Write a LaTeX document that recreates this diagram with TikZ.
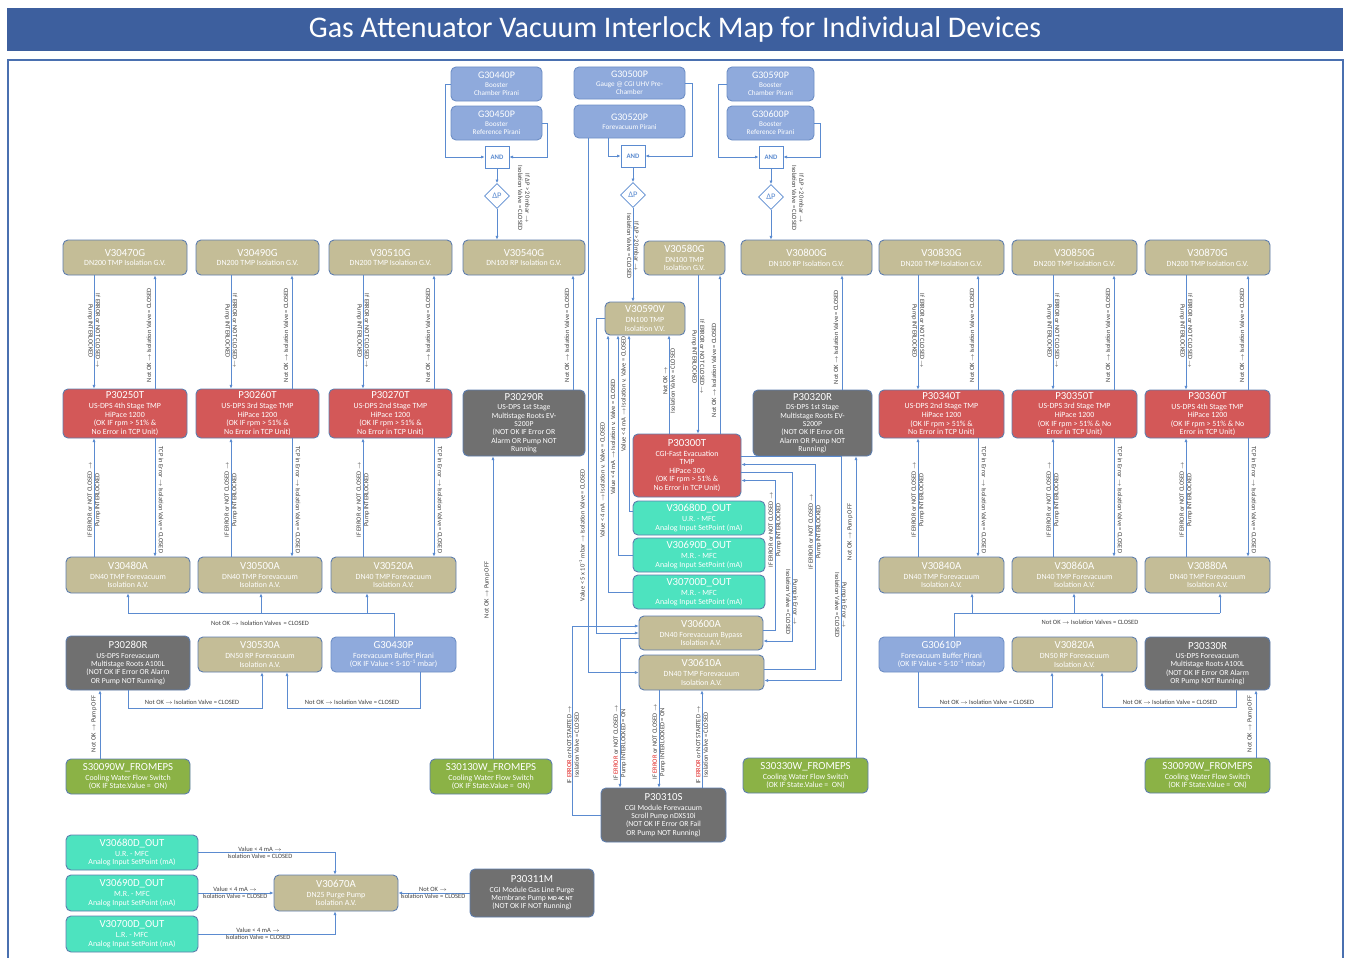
\documentclass[tikz,border=0pt]{standalone}
\usepackage{fontspec}
\setmainfont{Carlito}
\usetikzlibrary{arrows.meta,shapes.geometric}

\definecolor{barc}{HTML}{3D5F9E}
\definecolor{framec}{HTML}{4A70B0}
\definecolor{linec}{HTML}{5B8BD0}
\definecolor{bordc}{HTML}{5E7EAE}
\definecolor{gaugeb}{HTML}{6E8FC6}
\definecolor{tanc}{HTML}{C4BD97}
\definecolor{redc}{HTML}{D35858}
\definecolor{greyc}{HTML}{707070}
\definecolor{tealc}{HTML}{4DE3BF}
\definecolor{greenc}{HTML}{8BB246}
\definecolor{gaugec}{HTML}{8FAADC}
\definecolor{labc}{HTML}{404040}
\definecolor{errc}{HTML}{E0201E}

% box title lines
\newcommand\hdr[1]{{\fontsize{10.8}{12}\selectfont #1}\\[1.2pt]}
\newcommand\hds[1]{{\fontsize{10}{11}\selectfont #1}\\[0.6pt]}
\newcommand\rarr{$\rightarrow$}
\newcommand\err{\textcolor{errc}{ERROR}}
\newcommand\expm{\textsuperscript{–1}}
% \bx{name}{style}{x1}{y1}{x2}{y2}{text}: box spanning two corners
\newcommand\bx[7]{%
  \pgfmathsetmacro\bxcx{(#3+#5)/2}%
  \pgfmathsetmacro\bxcy{(#4+#6)/2}%
  \pgfmathsetmacro\bxw{#5-#3}%
  \pgfmathsetmacro\bxh{#6-#4}%
  \node[#2, minimum width=\bxw pt, minimum height=\bxh pt] (#1) at (\bxcx,\bxcy) {#7};}

\tikzset{
  box/.style={rounded corners=5pt, draw=bordc, line width=0.9pt, align=center,
    text=white, inner sep=1pt, font=\fontsize{7.9}{8.6}\selectfont},
  tanbox/.style={box, fill=tanc},
  redbox/.style={box, fill=redc},
  greybox/.style={box, fill=greyc, font=\fontsize{7.7}{8.3}\selectfont},
  tealbox/.style={box, fill=tealc},
  greenbox/.style={box, fill=greenc},
  gaugebox/.style={box, fill=gaugec, draw=gaugeb},
  gaugesm/.style={gaugebox, font=\fontsize{7.2}{8.2}\selectfont},
  andbox/.style={draw=linec, fill=white, line width=0.8pt, minimum width=24pt,
    minimum height=22pt, inner sep=0pt, text=linec, font=\bfseries\fontsize{6.8}{8}\selectfont},
  dpbox/.style={diamond, draw=linec, fill=white, line width=0.8pt, minimum width=25pt,
    minimum height=25pt, inner sep=0pt, text=linec, font=\fontsize{8.5}{9}\selectfont},
  conn/.style={draw=linec, line width=0.8pt},
  arr/.style={conn, -{Latex[length=3.6pt,width=3.2pt]}},
  lbl/.style={font=\fontsize{6.5}{7.4}\selectfont, text=labc, align=center, inner sep=0pt},
}

\begin{document}
\begin{tikzpicture}[x=1pt,y=-1pt]
\useasboundingbox (0,0) rectangle (1349,958);
\fill[white] (0,0) rectangle (1349,958);

% title bar and frame
\node[fill=barc, minimum width=1336pt, minimum height=43pt, inner sep=0pt, text=white,
  font=\fontsize{30}{32}\selectfont] (title) at (675,29.5)
  {Gas Attenuator Vacuum Interlock Map for Individual Devices};
\draw[framec, line width=1.2pt] (8,962) |- (1343,60) -- (1343,962);

% ---------- gauges and logic at the top ----------
\bx{G30440P}{gaugesm}{451}{67}{542}{101}{\hds{G30440P}Booster\\Chamber Pirani}
\bx{G30450P}{gaugesm}{451}{106}{542}{140}{\hds{G30450P}Booster\\Reference Pirani}
\bx{G30500P}{gaugesm}{574}{67}{685}{99}{\hds{G30500P}Gauge @ CGI UHV Pre-\\Chamber}
\bx{G30520P}{gaugesm}{574}{105}{685}{138}{\hds{G30520P}Forevacuum Pirani}
\bx{G30590P}{gaugesm}{727}{67}{814}{101}{\hds{G30590P}Booster\\Chamber Pirani}
\bx{G30600P}{gaugesm}{727}{106}{814}{140}{\hds{G30600P}Booster\\Reference Pirani}

\node[andbox] (ANDa) at (497,157) {AND};
\node[andbox] (ANDb) at (633,156) {AND};
\node[andbox] (ANDc) at (771,157) {AND};
\node[dpbox] (dPa) at (497,196) {ΔP};
\node[dpbox] (dPb) at (633,195) {ΔP};
\node[dpbox] (dPc) at (771,197) {ΔP};

% ---------- gate valves ----------
\bx{V30470G}{tanbox}{63}{240}{187}{275}{\hdr{V30470G}DN200 TMP Isolation G.V.}
\bx{V30490G}{tanbox}{196}{240}{319}{275}{\hdr{V30490G}DN200 TMP Isolation G.V.}
\bx{V30510G}{tanbox}{329}{240}{452}{275}{\hdr{V30510G}DN200 TMP Isolation G.V.}
\bx{V30540G}{tanbox}{463}{240}{585}{275}{\hdr{V30540G}DN100 RP Isolation G.V.}
\bx{V30580G}{tanbox}{644}{241}{725}{275}{\hdr{V30580G}DN100 TMP\\Isolation G.V.}
\bx{V30800G}{tanbox}{741}{240}{872}{275}{\hdr{V30800G}DN100 RP Isolation G.V.}
\bx{V30830G}{tanbox}{879}{240}{1004}{275}{\hdr{V30830G}DN200 TMP Isolation G.V.}
\bx{V30850G}{tanbox}{1012}{240}{1137}{275}{\hdr{V30850G}DN200 TMP Isolation G.V.}
\bx{V30870G}{tanbox}{1145}{240}{1270}{275}{\hdr{V30870G}DN200 TMP Isolation G.V.}
\bx{V30590V}{tanbox}{605}{302}{685}{335}{\hdr{V30590V}DN100 TMP\\Isolation V.V.}

% ---------- pumps ----------
\bx{P30250T}{redbox}{63}{389}{187}{438}{\hdr{P30250T}US-DPS 4th Stage TMP\\HiPace 1200\\(OK IF rpm > 51\% \&\\No Error in TCP Unit)}
\bx{P30260T}{redbox}{196}{389}{319}{438}{\hdr{P30260T}US-DPS 3rd Stage TMP\\HiPace 1200\\(OK IF rpm > 51\% \&\\No Error in TCP Unit)}
\bx{P30270T}{redbox}{329}{389}{452}{438}{\hdr{P30270T}US-DPS 2nd Stage TMP\\HiPace 1200\\(OK IF rpm > 51\% \&\\No Error in TCP Unit)}
\bx{P30290R}{greybox}{463}{390}{585}{456}{\hdr{P30290R}US-DPS 1st Stage\\Multistage Roots EV-\\S200P\\(NOT OK IF Error OR\\Alarm OR Pump NOT\\Running}
\bx{P30300T}{redbox}{633}{434}{741}{497}{\hdr{P30300T}CGI-Fast Evacuation\\TMP\\HiPace 300\\(OK IF rpm > 51\% \&\\No Error in TCP Unit)}
\bx{P30320R}{greybox}{753}{390}{872}{456}{\hdr{P30320R}DS-DPS 1st Stage\\Multistage Roots EV-\\S200P\\(NOT OK IF Error OR\\Alarm OR Pump NOT\\Running)}
\bx{P30340T}{redbox}{879}{390}{1004}{438}{\hdr{P30340T}US-DPS 2nd Stage TMP\\HiPace 1200\\(OK IF rpm > 51\% \&\\No Error in TCP Unit)}
\bx{P30350T}{redbox}{1012}{390}{1137}{438}{\hdr{P30350T}US-DPS 3rd Stage TMP\\HiPace 1200\\(OK IF rpm > 51\% \& No\\Error in TCP Unit)}
\bx{P30360T}{redbox}{1145}{390}{1270}{438}{\hdr{P30360T}US-DPS 4th Stage TMP\\HiPace 1200\\(OK IF rpm > 51\% \& No\\Error in TCP Unit)}

% ---------- MFC outputs and CGI forevacuum valves ----------
\bx{V30680Dc}{tealbox}{633}{501}{765}{535}{\hdr{V30680D\_OUT}U.R. - MFC\\Analog Input SetPoint (mA)}
\bx{V30690Dc}{tealbox}{633}{538}{765}{572}{\hdr{V30690D\_OUT}M.R. - MFC\\Analog Input SetPoint (mA)}
\bx{V30700Dc}{tealbox}{633}{575}{765}{609}{\hdr{V30700D\_OUT}M.R. - MFC\\Analog Input SetPoint (mA)}
\bx{V30600A}{tanbox}{639}{616}{763}{650}{\hdr{V30600A}DN40 Forevacuum Bypass\\Isolation A.V.}
\bx{V30610A}{tanbox}{639}{655}{764}{690}{\hdr{V30610A}DN40 TMP Forevacuum\\Isolation A.V.}

% ---------- forevacuum valves ----------
\bx{V30480A}{tanbox}{66}{557}{190}{593}{\hdr{V30480A}DN40 TMP Forevacuum\\Isolation A.V.}
\bx{V30500A}{tanbox}{198}{557}{322}{593}{\hdr{V30500A}DN40 TMP Forevacuum\\Isolation A.V.}
\bx{V30520A}{tanbox}{331}{557}{456}{593}{\hdr{V30520A}DN40 TMP Forevacuum\\Isolation A.V.}
\bx{V30840A}{tanbox}{879}{557}{1004}{593}{\hdr{V30840A}DN40 TMP Forevacuum\\Isolation A.V.}
\bx{V30860A}{tanbox}{1012}{557}{1137}{593}{\hdr{V30860A}DN40 TMP Forevacuum\\Isolation A.V.}
\bx{V30880A}{tanbox}{1145}{557}{1270}{593}{\hdr{V30880A}DN40 TMP Forevacuum\\Isolation A.V.}

\bx{P30280R}{greybox}{66}{636}{190}{690}{\hdr{P30280R}US-DPS Forevacuum\\Multistage Roots A100L\\(NOT OK IF Error OR Alarm\\OR Pump NOT Running)}
\bx{V30530A}{tanbox}{198}{637}{322}{672}{\hdr{V30530A}DN50 RP Forevacuum\\Isolation A.V.}
\bx{G30430P}{gaugebox}{331}{637}{456}{672}{\hdr{G30430P}Forevacuum Buffer Pirani\\(OK IF Value < 5·10\expm{} mbar)}
\bx{G30610P}{gaugebox}{879}{637}{1004}{672}{\hdr{G30610P}Forevacuum Buffer Pirani\\(OK IF Value < 5·10\expm{} mbar)}
\bx{V30820A}{tanbox}{1012}{637}{1137}{672}{\hdr{V30820A}DN50 RP Forevacuum\\Isolation A.V.}
\bx{P30330R}{greybox}{1145}{637}{1270}{690}{\hdr{P30330R}US-DPS Forevacuum\\Multistage Roots A100L\\(NOT OK IF Error OR Alarm\\OR Pump NOT Running)}

% ---------- cooling water switches ----------
\bx{S30090Wa}{greenbox}{66}{759}{190}{794}{\hdr{S30090W\_FROMEPS}Cooling Water Flow Switch\\(OK IF State.Value = ~ON)}
\bx{S30130W}{greenbox}{430}{759}{552}{794}{\hdr{S30130W\_FROMEPS}Cooling Water Flow Switch\\(OK IF State.Value = ~ON)}
\bx{S30330W}{greenbox}{743}{758}{868}{793}{\hdr{S30330W\_FROMEPS}Cooling Water Flow Switch\\(OK IF State.Value = ~ON)}
\bx{S30090Wb}{greenbox}{1145}{758}{1270}{793}{\hdr{S30090W\_FROMEPS}Cooling Water Flow Switch\\(OK IF State.Value = ~ON)}

\bx{P30310S}{greybox}{601}{788}{726}{842}{\hdr{P30310S}CGI Module Forevacuum\\Scroll Pump nDXS10i\\(NOT OK IF Error OR Fail\\OR Pump NOT Running)}

% ---------- purge line ----------
\bx{V30680Db}{tealbox}{66}{835}{198}{870}{\hdr{V30680D\_OUT}U.R. - MFC\\Analog Input SetPoint (mA)}
\bx{V30690Db}{tealbox}{66}{875}{198}{911}{\hdr{V30690D\_OUT}M.R. - MFC\\Analog Input SetPoint (mA)}
\bx{V30700Db}{tealbox}{66}{916}{198}{952}{\hdr{V30700D\_OUT}L.R. - MFC\\Analog Input SetPoint (mA)}
\bx{V30670A}{tanbox}{274}{875}{398}{911}{\hdr{V30670A}DN25 Purge Pump\\Isolation A.V.}
\bx{P30311M}{greybox}{470}{869}{594}{917}{\hdr{P30311M}CGI Module Gas Line Purge\\Membrane Pump {\bfseries\fontsize{6}{7}\selectfont MD 4C NT}\\(NOT OK IF NOT Running)}

% ================= connectors =================
% pressure difference logic
\draw[arr] (G30440P.west) -- ++(-5,0) |- (ANDa.west);
\draw[arr] (G30450P.east) -- ++(5,0) |- (ANDa.east);
\draw[arr] (ANDa.south) -- (dPa.north);
\draw[arr] (dPa.south) -- (dPa.south |- V30540G.north);
\node[lbl, rotate=-90] (ldPa) at (524,198) {If ΔP > 20 mbar \rarr\\Isolation Valve = CLOSED};

\draw[arr] (G30500P.east) -- ++(7,0) |- (ANDb.east);
\draw[arr] (608,0 |- G30520P.south) |- (ANDb.west);
\draw[arr] (ANDb.south) -- (dPb.north);
\draw[arr] (dPb.south) -- (dPb.south |- V30590V.north);
\node[lbl, rotate=-90] (ldPb) at (633,246) {If ΔP > 20 mbar \rarr\\Isolation Valve = CLOSED};

\draw[arr] (G30590P.west) -- ++(-8,0) |- (ANDc.west);
\draw[arr] (G30600P.east) -- ++(6,0) |- (ANDc.east);
\draw[arr] (ANDc.south) -- (dPc.north);
\draw[arr] (dPc.south) -- (dPc.south |- V30800G.north);
\node[lbl, rotate=-90] (ldPc) at (798,198) {If ΔP > 20 mbar \rarr\\Isolation Valve = CLOSED};

\draw[arr] (588,0 |- G30520P.south) |- (V30610A.west);
\node[lbl, rotate=90] (lG30520P) at (582,535) {Value < 5 x 10\expm{} mbar \rarr{} Isolation Valve = CLOSED};

% TMP stages: gate valve, pump, forevacuum valve
\foreach \g/\p/\a/\dx/\ux in {V30470G/P30250T/V30480A/94/155, V30490G/P30260T/V30500A/231/292,
    V30510G/P30270T/V30520A/363/434, V30830G/P30340T/V30840A/918/978,
    V30850G/P30350T/V30860A/1053/1114, V30870G/P30360T/V30880A/1186/1248}{
  \draw[arr] (\dx,0 |- \g.south) -- (\dx,0 |- \p.north);
  \draw[arr] (\ux,0 |- \p.north) -- (\ux,0 |- \g.south);
  \draw[arr] (\dx,0 |- \a.north) -- (\dx,0 |- \p.south);
  \draw[arr] (\ux,0 |- \p.south) -- (\ux,0 |- \a.north);
  \node[lbl, rotate=-90] (lt\p) at (\dx,331) {If ERROR or NOT CLOSED \rarr\\Pump INTERLOCKED};
  \node[lbl, rotate=90] (lu\p) at (\ux-6,335) {Not OK \rarr{} Isolation Valve = CLOSED};
  \node[lbl, rotate=90] (lb\p) at (\dx,500) {IF ERROR or NOT CLOSED \rarr\\Pump INTERLOCKED};
  \node[lbl, rotate=-90] (lc\p) at (\ux+6,500) {TCP in Error \rarr{} Isolation Valve = CLOSED};
}

% roots pumps and RP gate valves
\draw[arr] (573,0 |- P30290R.north) -- (573,0 |- V30540G.south);
\node[lbl, rotate=90] (lP30290R) at (567,335) {Not OK \rarr{} Isolation Valve = CLOSED};
\draw[arr] (493,0 |- S30130W.north) -- (493,0 |- P30290R.south);
\node[lbl, rotate=90] (lS30130W) at (487,590) {Not OK \rarr{} Pump OFF};
\draw[arr] (842,0 |- P30320R.north) -- (842,0 |- V30800G.south);
\node[lbl, rotate=90] (lP30320R) at (836,337) {Not OK \rarr{} Isolation Valve = CLOSED};
\draw[arr] (856,0 |- S30330W.north) -- (856,0 |- P30320R.south);
\node[lbl, rotate=90] (lS30330W) at (850,532) {Not OK \rarr{} Pump OFF};

% CGI fast evacuation TMP
\draw[arr] (698,0 |- V30580G.south) -- (698,0 |- P30300T.north);
\node[lbl, rotate=-90] (lV30580G) at (698,357) {If ERROR or NOT CLOSED \rarr\\Pump INTERLOCKED};
\draw[arr] (720,0 |- P30300T.north) -- (720,0 |- V30580G.south);
\node[lbl, rotate=90] (lP30300a) at (714,370) {Not OK \rarr{} Isolation Valve = CLOSED};
\draw[arr] (669,0 |- P30300T.north) -- (669,0 |- V30590V.south);
\node[lbl, rotate=90] (lP30300b) at (669,381) {Not OK \rarr\\Isolation Valve = CLOSED};

% MFC set points to the VV
\draw[arr] ([yshift=7pt]V30680Dc.west) -| (629,0 |- V30590V.south);
\draw[arr] (V30690Dc.west) -| (618,0 |- V30590V.south);
\draw[arr] (V30700Dc.west) -| (608,0 |- V30590V.south);
\node[lbl, rotate=90] (lV30680Dc) at (623.5,394) {Value < 4 mA \rarr{} Isolation v. Valve = CLOSED};
\node[lbl, rotate=90] (lV30690Dc) at (613,437) {Value < 4 mA \rarr{} Isolation v. Valve = CLOSED};
\node[lbl, rotate=90] (lV30700Dc) at (602.5,480) {Value < 4 mA \rarr{} Isolation v. Valve = CLOSED};

% forevacuum side of the CGI
\draw[arr] (V30590V.west) -- ++(-8,0) |- (V30600A.west);
\draw[arr] (P30310S.west) -- ++(-28,0) |- ([yshift=7pt]V30600A.west);
\draw[arr] ([yshift=-5pt]V30600A.west) -| (620,0 |- P30310S.north);
\draw[arr] (659,0 |- V30610A.south) -- (659,0 |- P30310S.north);
\draw[arr] (702,0 |- P30310S.north) -- (702,0 |- V30610A.south);
\node[lbl, rotate=90] (lP30310a) at (573,745) {IF \err{} or NOT STARTED \rarr\\Isolation Valve = CLOSED};
\node[lbl, rotate=90] (lV30600b) at (620,743) {IF \err{} or NOT CLOSED \rarr\\Pump INTERLOCKED = ON};
\node[lbl, rotate=90] (lV30610b) at (659,742) {IF \err{} or NOT CLOSED \rarr\\Pump INTERLOCKED = ON};
\node[lbl, rotate=90] (lP30310b) at (702,745) {IF \err{} or NOT STARTED \rarr\\Isolation Valve = CLOSED};

\coordinate (ppa) at ([yshift=9pt]P30300T.east);
\coordinate (ppb) at ([yshift=1pt]P30300T.east);
\coordinate (ppc) at ([yshift=-7pt]P30300T.east);
\coordinate (ppd) at ([yshift=-15pt]P30300T.east);
\coordinate (vao) at ([yshift=3pt]V30600A.east);
\coordinate (vai) at ([yshift=-8pt]V30600A.east);
\coordinate (vbo) at ([yshift=3pt]V30610A.east);
\coordinate (vbi) at ([yshift=-8pt]V30610A.east);
\draw[arr] (ppa) -| (841,0 |- vbi) -- (vbi);
\draw[arr] (vbo) -| (815,0 |- ppb) -- (ppb);
\draw[arr] (ppc) -| (792,0 |- vai) -- (vai);
\draw[arr] (vao) -| (775,0 |- ppd) -- (ppd);
\node[lbl, rotate=90] (lV30600a) at (775,530) {IF ERROR or NOT CLOSED \rarr\\Pump INTERLOCKED};
\node[lbl, rotate=-90] (lP30300c) at (792,602) {Pump in Error \rarr\\Isolation Valve = CLOSED};
\node[lbl, rotate=90] (lV30610a) at (815,532) {IF ERROR or NOT CLOSED \rarr\\Pump INTERLOCKED};
\node[lbl, rotate=-90] (lP30300d) at (841,605) {Pump in Error \rarr\\Isolation Valve = CLOSED};

% left forevacuum group
\coordinate (busL) at (128,613);
\draw[conn] (394,0 |- G30430P.north) |- (busL);
\draw[arr] (busL) -- (busL |- V30480A.south);
\draw[arr] (261,0 |- busL) -- (261,0 |- V30500A.south);
\draw[arr] (367,0 |- busL) -- (367,0 |- V30520A.south);
\node[lbl] (lG30430a) at (260,623) {Not OK \rarr{} Isolation Valves \,= CLOSED};
\draw[arr] (128,0 |- P30280R.south) -- (128,708) -| (262,0 |- V30530A.south);
\node[lbl] (lP30280R) at (192,702) {Not OK \rarr{} Isolation Valve = CLOSED};
\draw[arr] (420,0 |- G30430P.south) -- (420,708) -| (287,0 |- V30530A.south);
\node[lbl] (lG30430b) at (352,702) {Not OK \rarr{} Isolation Valve = CLOSED};
\draw[arr] (100,0 |- S30090Wa.north) -- (100,0 |- P30280R.south);
\node[lbl, rotate=90] (lS30090Wa) at (94,724) {Not OK \rarr{} Pump OFF};

% right forevacuum group
\coordinate (busR) at (1220,613);
\draw[conn] (954,0 |- G30610P.north) |- (busR);
\draw[arr] (972,0 |- busR) -- (972,0 |- V30840A.south);
\draw[arr] (1074,0 |- busR) -- (1074,0 |- V30860A.south);
\draw[arr] (busR) -- (busR |- V30880A.south);
\node[lbl] (lG30610a) at (1090,622) {Not OK \rarr{} Isolation Valves = CLOSED};
\draw[arr] (918,0 |- G30610P.south) -- (918,707) -| (1052,0 |- V30820A.south);
\node[lbl] (lG30610b) at (987,702) {Not OK \rarr{} Isolation Valve = CLOSED};
\draw[arr] (1236,0 |- P30330R.south) -- (1236,707) -| (1102,0 |- V30820A.south);
\node[lbl] (lP30330R) at (1170,702) {Not OK \rarr{} Isolation Valve = CLOSED};
\draw[arr] (1256,0 |- S30090Wb.north) -- (1256,0 |- P30330R.south);
\node[lbl, rotate=90] (lS30090Wb) at (1250,724) {Not OK \rarr{} Pump OFF};

% purge pump valve
\draw[arr] (V30680Db.east) -| (335,0 |- V30670A.north);
\draw[arr] (V30690Db.east) -- (V30670A.west);
\draw[arr] (V30700Db.east) -| (335,0 |- V30670A.south);
\draw[arr] (P30311M.west) -- (V30670A.east);
\node[lbl] (lV30680Db) at (260,852.5) {Value < 4 mA \rarr\\Isolation Valve = CLOSED};
\node[lbl] (lV30690Db) at (235,893) {Value < 4 mA \rarr\\Isolation Valve = CLOSED};
\node[lbl] (lV30700Db) at (258,934) {Value < 4 mA \rarr\\Isolation Valve = CLOSED};
\node[lbl] (lP30311M) at (433,893) {Not OK \rarr\\Isolation Valve = CLOSED};
\end{tikzpicture}
\end{document}
